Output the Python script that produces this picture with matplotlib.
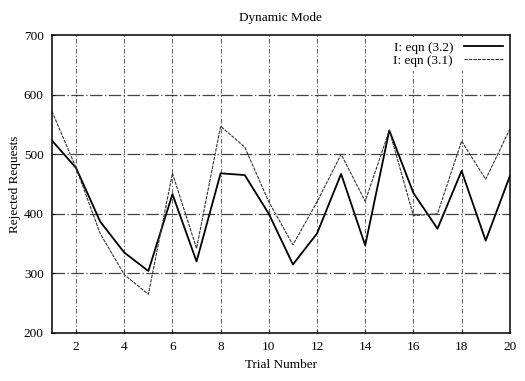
import matplotlib
matplotlib.use("Agg")
import matplotlib.pyplot as plt

trials = list(range(1, 21))
eqn_32 = [523, 477, 387, 335, 304, 433, 320, 468, 465, 400,
          315, 367, 467, 347, 540, 435, 375, 472, 355, 463]
eqn_31 = [572, 477, 367, 298, 265, 468, 342, 547, 512, 420,
          348, 420, 500, 421, 540, 397, 400, 522, 458, 542]

xticks = [2, 4, 6, 8, 10, 12, 14, 16, 18, 20]
yticks = [200, 300, 400, 500, 600, 700]

plt.rcParams['font.family'] = ['Liberation Serif', 'DejaVu Serif']

fig = plt.figure(figsize=(5.25, 3.81), dpi=100)
ax = fig.add_axes([0.099, 0.126, 0.872, 0.782])

ax.plot(trials, eqn_32, color='black', lw=1.3, label='I: eqn (3.2)')
ax.plot(trials, eqn_31, color='#333333', lw=0.8, dashes=(3, 1),
        label='I: eqn (3.1)')

ax.set_xlim(1, 20)
ax.set_ylim(200, 700)
ax.set_xticks(xticks)
ax.set_yticks(yticks)
ax.tick_params(direction='in', length=2, labelsize=9.5, pad=6)

for x in xticks[:-1]:
    ax.axvline(x, color='#666666', lw=0.8, ls=(0, (4, 2, 1, 2)), zorder=0)
for y in yticks[1:-1]:
    ax.axhline(y, color='#444444', lw=0.9, ls=(0, (10, 2, 1, 2)), zorder=0)

for s in ax.spines.values():
    s.set_linewidth(1.1)

ax.set_title('Dynamic Mode', fontsize=9.5, pad=10)
ax.set_xlabel('Trial Number', fontsize=9.5, labelpad=4)
ax.set_ylabel('Rejected Requests', fontsize=9.5, labelpad=2)

leg = ax.legend(loc='upper right', frameon=True, markerfirst=False,
                fontsize=9.5, handlelength=3.0, handletextpad=0.8,
                labelspacing=0.05, borderaxespad=0.2, fancybox=False,
                framealpha=1.0, borderpad=0.3)
leg.get_frame().set_edgecolor('none')
leg.get_frame().set_facecolor('white')

fig.savefig('out.png', dpi=100)
